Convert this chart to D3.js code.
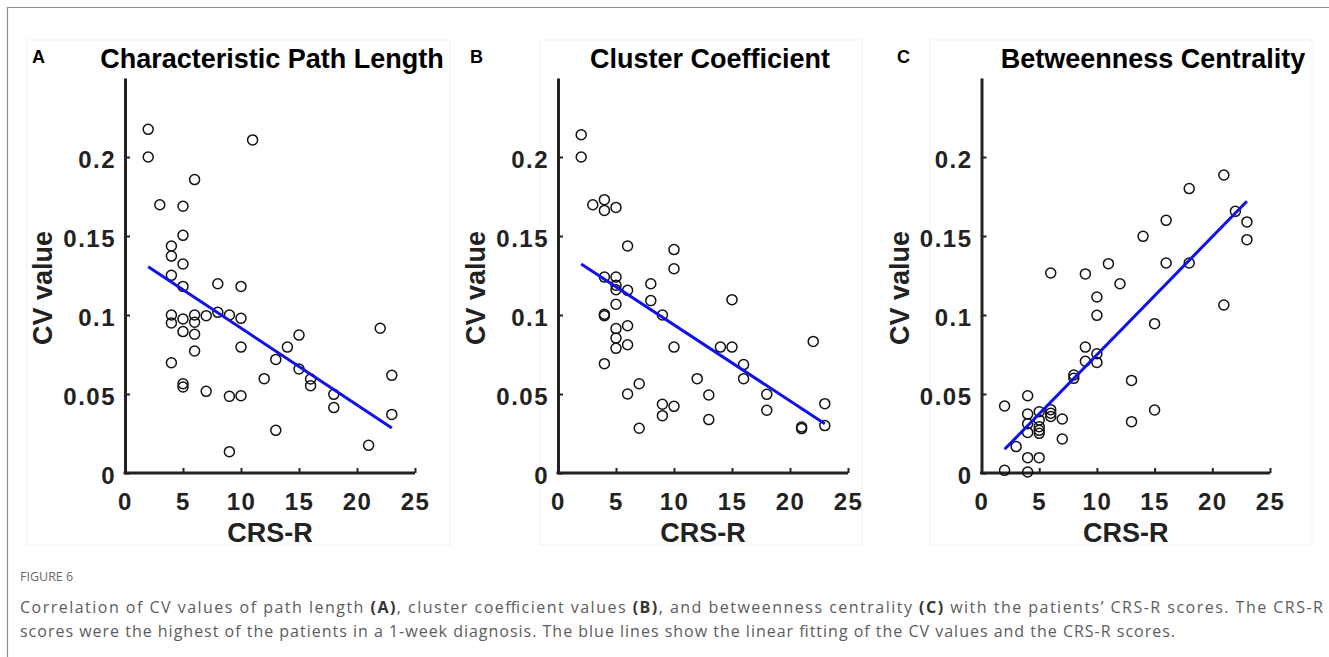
<!DOCTYPE html>
<html>
<head>
<meta charset="utf-8">
<script src="https://cdn.jsdelivr.net/npm/d3@7"></script>
<style>
  html, body { margin: 0; padding: 0; background: #fff; }
  svg { display: block; }
  .axis path, .axis line { stroke: #222; }
  .axis text { font-family: "Liberation Sans", Arial, sans-serif; font-weight: bold; fill: #222; }
</style>
</head>
<body>
<div id="chart"></div>
<script>
// Panel A - characteristic path length
const crsA = [2, 2, 11, 6, 3, 5, 5, 4, 4, 5, 4, 5, 8, 10, 4, 4, 5, 6, 6, 7, 8, 9, 10, 5, 6, 6, 10, 4,
    15, 14, 13, 15, 16, 16, 12, 5, 5, 7, 9, 10, 18, 18, 13, 9, 21, 22, 23, 23];
const cvA = [0.2175, 0.2, 0.2108, 0.1857, 0.1698, 0.1688, 0.1504, 0.1437, 0.1373, 0.1323, 0.1251, 0.1181,
    0.1198, 0.1181, 0.1, 0.0949, 0.0975, 0.1, 0.0954, 0.0996, 0.1017, 0.1, 0.0979, 0.0895, 0.0878, 0.0772,
    0.0797, 0.0698, 0.0873, 0.0797, 0.0719, 0.0658, 0.0595, 0.0553, 0.0597, 0.0565, 0.0544, 0.0517,
    0.0485, 0.0489, 0.0498, 0.0414, 0.027, 0.0135, 0.0175, 0.0916, 0.0618, 0.0371];
const fitA = [[2, 0.1306], [23, 0.0285]];

// Panel B - cluster coefficient
const crsB = [2, 2, 3, 4, 4, 5, 6, 10, 10, 4, 5, 5, 5, 6, 8, 8, 5, 4, 4, 9, 15, 5, 6, 5, 6, 5, 10, 14,
    15, 4, 16, 16, 12, 22, 7, 6, 13, 18, 9, 10, 9, 18, 13, 7, 21, 21, 23, 23];
const cvB = [0.2141, 0.2, 0.1698, 0.173, 0.1662, 0.1681, 0.1437, 0.1414, 0.1293, 0.124, 0.124, 0.1188,
    0.116, 0.1156, 0.1198, 0.1091, 0.1068, 0.1004, 0.0996, 0.1, 0.1097, 0.0914, 0.0932, 0.0854, 0.0812,
    0.0789, 0.0797, 0.0797, 0.0797, 0.0692, 0.0686, 0.0597, 0.0597, 0.0833, 0.0565, 0.05, 0.0494, 0.0498,
    0.0435, 0.0422, 0.0363, 0.0397, 0.0338, 0.0283, 0.0291, 0.0281, 0.0439, 0.03];
const fitB = [[2, 0.1323], [23, 0.0312]];

// Panel C - betweenness centrality
const crsC = [21, 18, 16, 14, 22, 23, 23, 11, 16, 18, 6, 9, 12, 10, 21, 10, 15, 9, 10, 9, 10, 8, 8, 13,
    4, 2, 15, 4, 5, 6, 6, 6, 7, 4, 5, 5, 5, 5, 4, 13, 7, 3, 4, 5, 2, 4];
const cvC = [0.1886, 0.18, 0.1599, 0.1498, 0.1656, 0.1589, 0.1477, 0.1325, 0.1329, 0.1329, 0.1266, 0.126,
    0.1198, 0.1114, 0.1063, 0.0998, 0.0945, 0.0797, 0.0755, 0.0707, 0.07, 0.062, 0.0599, 0.0586, 0.0489,
    0.0424, 0.0399, 0.0373, 0.0388, 0.0401, 0.0378, 0.0358, 0.0342, 0.0312, 0.0336, 0.0293, 0.027, 0.0251,
    0.0257, 0.0325, 0.0215, 0.0167, 0.0097, 0.0097, 0.0017, 0.0006];
const fitC = [[2, 0.015], [23, 0.172]];

const xTicks = [0, 5, 10, 15, 20, 25];
const yTicks = [0, 0.05, 0.1, 0.15, 0.2];
const yTickLabels = ["0", "0.05", "0.1", "0.15", "0.2"];
const titles = ["Characteristic Path Length", "Cluster Coefficient", "Betweenness Centrality"];
const letters = ["A", "B", "C"];

const width = 1329, height = 657;
const svg = d3.select("#chart").append("svg")
    .attr("width", width)
    .attr("height", height);

// outer frame (top and left edges)
svg.append("path")
    .attr("d", "M7.5,657V7.5H1329")
    .attr("fill", "none")
    .attr("stroke", "#8c8c8c")
    .attr("stroke-width", 1.2);

const panels = [
    {crs: crsA, cv: cvA, fit: fitA, x0: 125, x1: 415, box: [27, 450], title: 272, letter: 32},
    {crs: crsB, cv: cvB, fit: fitB, x0: 558, x1: 848, box: [540, 862], title: 710, letter: 470},
    {crs: crsC, cv: cvC, fit: fitC, x0: 981.5, x1: 1270, box: [930, 1312], title: 1153, letter: 897}
];

const y = d3.scaleLinear().domain([0, 0.25]).range([473, 78]);

panels.forEach((p, i) => {
    const x = d3.scaleLinear().domain([0, 25]).range([p.x0, p.x1]);
    const g = svg.append("g");

    g.append("rect")
        .attr("x", p.box[0]).attr("y", 40)
        .attr("width", p.box[1] - p.box[0]).attr("height", 505)
        .attr("fill", "none")
        .attr("stroke", "#f8f8f8")
        .attr("stroke-width", 2);

    g.append("text")
        .attr("x", p.letter).attr("y", 63)
        .attr("font-family", "Liberation Sans, Arial, sans-serif")
        .attr("font-weight", "bold")
        .attr("font-size", 18)
        .text(letters[i]);

    g.append("text")
        .attr("x", p.title).attr("y", 68)
        .attr("text-anchor", "middle")
        .attr("font-family", "Liberation Sans, Arial, sans-serif")
        .attr("font-weight", "bold")
        .attr("font-size", 27)
        .text(titles[i]);

    const xAxis = g.append("g")
        .attr("class", "axis")
        .attr("transform", "translate(0,473)")
        .call(d3.axisBottom(x).tickValues(xTicks).tickSizeInner(-5).tickSizeOuter(0).tickPadding(20));
    xAxis.select(".domain").attr("stroke-width", 3).attr("d", `M${p.x0 - 1.5},0H${p.x1}`);
    xAxis.selectAll("line").attr("stroke-width", 2);
    xAxis.selectAll("text").attr("font-size", 24).attr("letter-spacing", 1.5).attr("dy", "0.71em");

    const yAxis = g.append("g")
        .attr("class", "axis")
        .attr("transform", `translate(${p.x0},0)`)
        .call(d3.axisLeft(y).tickValues(yTicks).tickFormat((d, k) => yTickLabels[k])
            .tickSizeInner(-5).tickSizeOuter(0).tickPadding(9));
    yAxis.select(".domain").attr("stroke-width", 3);
    yAxis.selectAll("line").attr("stroke-width", 2);
    yAxis.selectAll("text").attr("font-size", 24).attr("letter-spacing", 1.5).attr("dy", "0.45em");

    g.append("text")
        .attr("x", (p.x0 + p.x1) / 2).attr("y", 542)
        .attr("text-anchor", "middle")
        .attr("font-family", "Liberation Sans, Arial, sans-serif")
        .attr("font-weight", "bold")
        .attr("font-size", 27)
        .attr("fill", "#222")
        .text("CRS-R");

    g.append("text")
        .attr("transform", `translate(${p.x0 - 73},288) rotate(-90)`)
        .attr("text-anchor", "middle")
        .attr("font-family", "Liberation Sans, Arial, sans-serif")
        .attr("font-weight", "bold")
        .attr("font-size", 27)
        .attr("fill", "#222")
        .text("CV value");

    g.selectAll("circle")
        .data(p.crs.map((c, k) => [c, p.cv[k]]))
        .enter().append("circle")
        .attr("cx", d => x(d[0]))
        .attr("cy", d => y(d[1]))
        .attr("r", 5)
        .attr("fill", "none")
        .attr("stroke", "#111")
        .attr("stroke-width", 1.5);

    g.append("path")
        .datum(p.fit)
        .attr("d", d3.line().x(d => x(d[0])).y(d => y(d[1])))
        .attr("fill", "none")
        .attr("stroke", "#1010e8")
        .attr("stroke-width", 3);
});

// caption
svg.append("text")
    .attr("x", 20).attr("y", 581)
    .attr("font-family", "Open Sans, sans-serif")
    .attr("font-size", 12.5)
    .attr("fill", "#6a6a6a")
    .text("FIGURE 6");

const cap1 = svg.append("text")
    .attr("x", 20).attr("y", 613)
    .attr("font-family", "Open Sans, sans-serif")
    .attr("font-size", 16)
    .attr("fill", "#5c5c5c")
    .attr("textLength", 1303)
    .attr("lengthAdjust", "spacing");
[["Correlation of CV values of path length ", false], ["(A)", true], [", cluster coefficient values ", false],
 ["(B)", true], [", and betweenness centrality ", false], ["(C)", true],
 [" with the patients\u2019 CRS-R scores. The CRS-R", false]].forEach(s => {
    cap1.append("tspan").attr("font-weight", s[1] ? "bold" : null)
        .attr("fill", s[1] ? "#333" : null).text(s[0]);
});

svg.append("text")
    .attr("x", 20).attr("y", 637)
    .attr("font-family", "Open Sans, sans-serif")
    .attr("font-size", 16)
    .attr("fill", "#5c5c5c")
    .attr("textLength", 1155)
    .attr("lengthAdjust", "spacing")
    .text("scores were the highest of the patients in a 1-week diagnosis. The blue lines show the linear fitting of the CV values and the CRS-R scores.");
</script>
</body>
</html>
